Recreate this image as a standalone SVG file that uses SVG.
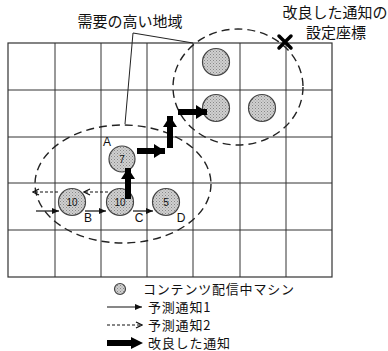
<svg xmlns="http://www.w3.org/2000/svg" width="388" height="351" viewBox="0 0 388 351">
<defs>
<style>
text{font-family:"Noto Sans CJK JP","Liberation Sans",sans-serif;fill:#111}
.lbl{font-size:15px}
.leg{font-size:13px;letter-spacing:0.8px}
.let{font-size:12px;font-family:"Liberation Sans",sans-serif}
.num{font-size:10px;font-family:"Liberation Sans",sans-serif;text-anchor:middle}
.grid line{stroke:#333;stroke-width:1}
.m{fill:url(#dots);stroke:#444;stroke-width:1.2}
.thin{stroke:#111;stroke-width:1.2;fill:none}
.dash{stroke:#111;stroke-width:1.2;fill:none;stroke-dasharray:3,2}
.thick{stroke:#000;stroke-width:6;fill:none}
.region{fill:none;stroke:#222;stroke-width:1.4;stroke-dasharray:8,5}
</style>
<pattern id="dots" width="3" height="3" patternUnits="userSpaceOnUse">
<rect width="3" height="3" fill="#d0d0d0"/>
<rect width="1" height="1" fill="#888"/>
<rect x="1.5" y="1.5" width="1" height="1" fill="#999"/>
</pattern>
<marker id="ah" markerWidth="8" markerHeight="8" refX="7" refY="4" orient="auto" markerUnits="userSpaceOnUse">
<path d="M0,1 L7,4 L0,7 Z" fill="#111"/>
</marker>
<marker id="ahd" markerWidth="8" markerHeight="8" refX="7" refY="4" orient="auto" markerUnits="userSpaceOnUse">
<path d="M1,1 L7,4 L1,7" fill="none" stroke="#111" stroke-width="1.3"/>
</marker>
<marker id="aht" markerWidth="12" markerHeight="14" refX="11" refY="7" orient="auto" markerUnits="userSpaceOnUse">
<path d="M0,0 L11,7 L0,14 Z" fill="#000"/>
</marker>
</defs>
<rect width="388" height="351" fill="#fff"/>
<g id="grid" class="grid">
<rect x="8" y="43" width="324" height="234" fill="none" stroke="#333" stroke-width="1.2"/>
<line x1="55" y1="43" x2="55" y2="277"/>
<line x1="101" y1="43" x2="101" y2="277"/>
<line x1="147" y1="43" x2="147" y2="277"/>
<line x1="193" y1="43" x2="193" y2="277"/>
<line x1="240" y1="43" x2="240" y2="277"/>
<line x1="286" y1="43" x2="286" y2="277"/>
<line x1="8" y1="90" x2="332" y2="90"/>
<line x1="8" y1="137" x2="332" y2="137"/>
<line x1="8" y1="183" x2="332" y2="183"/>
<line x1="8" y1="230" x2="332" y2="230"/>
</g>
<g id="regions">
<ellipse class="region" cx="123" cy="184" rx="88" ry="59"/>
<ellipse class="region" cx="238" cy="87" rx="65" ry="58"/>
</g>
<g id="machines">
<g id="m-top"><circle class="m" cx="216" cy="62" r="13.5"/></g>
<g id="m-mid1"><circle class="m" cx="216" cy="108" r="13.5"/></g>
<g id="m-mid2"><circle class="m" cx="262" cy="108" r="13.5"/></g>
<g id="m-7"><circle class="m" cx="122" cy="159" r="13"/><text class="num" x="122" y="163">7</text></g>
<g id="m-10a"><circle class="m" cx="72" cy="202" r="13.5"/><text class="num" x="72" y="206">10</text></g>
<g id="m-10b"><circle class="m" cx="120" cy="202" r="13.5"/><text class="num" x="120" y="206">10</text></g>
<g id="m-5"><circle class="m" cx="166" cy="202" r="13.5"/><text class="num" x="166" y="206">5</text></g>
</g>
<g id="connectors">
<line class="thin" x1="36" y1="211" x2="59" y2="211" marker-end="url(#ah)"/>
<line class="thin" x1="85" y1="211" x2="106" y2="211" marker-end="url(#ah)"/>
<line class="thin" x1="133" y1="211" x2="153" y2="211" marker-end="url(#ah)"/>
<line class="dash" x1="108" y1="192" x2="84" y2="192" marker-end="url(#ahd)"/>
<line class="dash" x1="58" y1="192" x2="33" y2="192" marker-end="url(#ahd)"/>
<line class="thick" x1="128" y1="199" x2="128" y2="168" marker-end="url(#aht)"/>
<line class="thick" x1="137" y1="151" x2="165" y2="151" marker-end="url(#aht)"/>
<line class="thick" x1="170" y1="148" x2="170" y2="116" marker-end="url(#aht)"/>
<line class="thick" x1="178" y1="112" x2="207" y2="112" marker-end="url(#aht)"/>
<line x1="133" y1="33" x2="125" y2="124" stroke="#222" stroke-width="1"/>
<line x1="133" y1="33" x2="193" y2="43" stroke="#222" stroke-width="1"/>
</g>
<g id="target">
<path d="M279,36 L291,48 M291,36 L279,48" stroke="#000" stroke-width="3.5" stroke-linecap="round"/>
</g>
<g id="labels">
<text class="lbl" x="130" y="27" text-anchor="middle">需要の高い地域</text>
<text class="lbl" x="335" y="18" text-anchor="middle">改良した通知の</text>
<text class="lbl" x="336" y="38" text-anchor="middle">設定座標</text>
<text class="let" x="107" y="146" text-anchor="middle">A</text>
<text class="let" x="88" y="222" text-anchor="middle">B</text>
<text class="let" x="139" y="222" text-anchor="middle">C</text>
<text class="let" x="181" y="222" text-anchor="middle">D</text>
</g>
<g id="legend">
<circle class="m" cx="120" cy="289" r="5.5"/>
<text class="leg" x="143" y="293.5">コンテンツ配信中マシン</text>
<line class="thin" x1="107" y1="307" x2="142" y2="307" marker-end="url(#ah)"/>
<text class="leg" x="148" y="311.5">予測通知1</text>
<line class="dash" x1="107" y1="325" x2="142" y2="325" marker-end="url(#ahd)"/>
<text class="leg" x="148" y="329.5">予測通知2</text>
<line x1="107" y1="343" x2="132" y2="343" stroke="#000" stroke-width="6"/>
<path d="M131,337 L143,343 L131,349 Z" fill="#000"/>
<text class="leg" x="148" y="347.5">改良した通知</text>
</g>
</svg>
